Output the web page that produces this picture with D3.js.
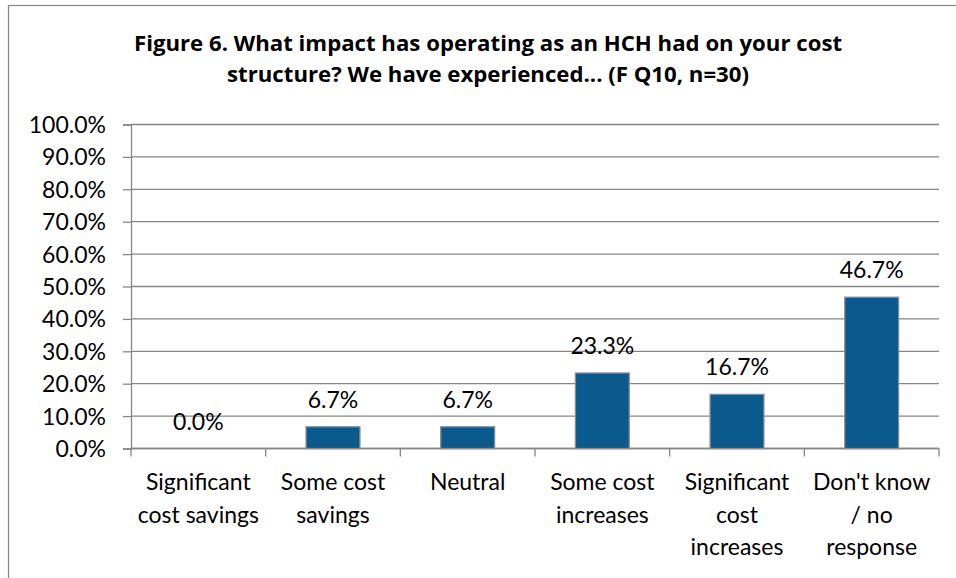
<!DOCTYPE html>
<html>
<head>
<meta charset="utf-8">
<script src="https://cdn.jsdelivr.net/npm/d3@7"></script>
<style>
  html, body { margin: 0; padding: 0; background: #fff; }
  svg { display: block; }
  text { font-family: Lato, "Open Sans", sans-serif; fill: #000; }
</style>
</head>
<body>
<svg id="chart" width="956" height="578"></svg>
<script>
// Survey responses (share of respondents)
const categories = [
  "Significant cost savings",
  "Some cost savings",
  "Neutral",
  "Some cost increases",
  "Significant cost increases",
  "Don't know / no response"
];
const categoryLines = [
  ["Significant", "cost savings"],
  ["Some cost", "savings"],
  ["Neutral"],
  ["Some cost", "increases"],
  ["Significant", "cost", "increases"],
  ["Don't know", "/ no", "response"]
];
const values = [0.0, 6.7, 6.7, 23.3, 16.7, 46.7];
const yTicks = [0, 10, 20, 30, 40, 50, 60, 70, 80, 90, 100];
const titleLines = [
  "Figure 6. What impact has operating as an HCH had on your cost",
  "structure? We have experienced... (F Q10, n=30)"
];

const svg = d3.select("#chart");

// Outer chart frame (extends past the visible area on right and bottom)
svg.append("rect")
  .attr("x", 8.5).attr("y", 5.5)
  .attr("width", 1000).attr("height", 1000)
  .attr("fill", "none").attr("stroke", "#868686").attr("stroke-width", 1.2);

const plot = { left: 131, right: 939, top: 124.5, bottom: 448.5 };

const x = d3.scaleBand()
  .domain(categories)
  .range([plot.left, plot.right])
  .paddingInner(0.6)
  .paddingOuter(0.3);

const xEdges = d3.scalePoint()
  .domain(d3.range(categories.length + 1))
  .range([plot.left, plot.right]);

const y = d3.scaleLinear().domain([0, 100]).range([plot.bottom, plot.top]);

// Title
svg.append("g").selectAll("text")
  .data(titleLines)
  .join("text")
  .attr("x", 488)
  .attr("y", (d, i) => 51 + i * 31)
  .attr("text-anchor", "middle")
  .style("font-family", "'Open Sans', Lato, sans-serif")
  .style("font-weight", "bold")
  .style("font-size", "22.2px")
  .text(d => d);

// Gridlines + y axis
const yAxis = d3.axisLeft(y)
  .tickValues(yTicks)
  .tickSize(8)
  .tickPadding(17)
  .tickFormat(d => d.toFixed(1) + "%");

svg.append("g")
  .attr("class", "grid")
  .selectAll("line")
  .data(yTicks)
  .join("line")
  .attr("x1", plot.left).attr("x2", plot.right)
  .attr("y1", d => y(d)).attr("y2", d => y(d))
  .attr("stroke", "#868686").attr("stroke-width", 1.3);

const gy = svg.append("g")
  .attr("transform", `translate(${plot.left},0)`)
  .call(yAxis);
gy.select(".domain").attr("stroke", "#868686").attr("stroke-width", 1.3);
gy.selectAll(".tick line").attr("stroke", "#868686").attr("stroke-width", 1.3);
gy.selectAll(".tick text")
  .style("font-size", "23px")
  .attr("dy", "0.35em")
  .attr("fill", "#000");

// X axis line and category boundary ticks
const gx = svg.append("g");
gx.append("line")
  .attr("x1", plot.left).attr("x2", plot.right)
  .attr("y1", plot.bottom).attr("y2", plot.bottom)
  .attr("stroke", "#868686").attr("stroke-width", 1.3);
gx.selectAll("line.edge")
  .data(xEdges.domain())
  .join("line")
  .attr("class", "edge")
  .attr("x1", d => xEdges(d)).attr("x2", d => xEdges(d))
  .attr("y1", plot.bottom).attr("y2", plot.bottom + 8)
  .attr("stroke", "#868686").attr("stroke-width", 1.3);

// Category labels
const catG = svg.append("g").selectAll("text")
  .data(categories)
  .join("text")
  .attr("text-anchor", "middle")
  .style("font-size", "23px")
  .attr("transform", d => `translate(${x(d) + x.bandwidth() / 2},0)`);
catG.selectAll("tspan")
  .data((d, i) => categoryLines[i])
  .join("tspan")
  .attr("x", 0)
  .attr("y", (d, i) => 490 + i * 32.5)
  .text(d => d);

// Bars
svg.append("g").selectAll("rect")
  .data(values)
  .join("rect")
  .attr("x", (d, i) => x(categories[i]))
  .attr("y", d => y(d))
  .attr("width", x.bandwidth())
  .attr("height", d => y(0) - y(d))
  .attr("fill", "#0B5A8E")
  .attr("stroke", "#8C8C8C")
  .attr("stroke-width", 1.3);

// Value labels
svg.append("g").selectAll("text")
  .data(values)
  .join("text")
  .attr("x", (d, i) => x(categories[i]) + x.bandwidth() / 2)
  .attr("y", d => y(d) - 19)
  .attr("text-anchor", "middle")
  .style("font-size", "23px")
  .text(d => d.toFixed(1) + "%");
</script>
</body>
</html>
